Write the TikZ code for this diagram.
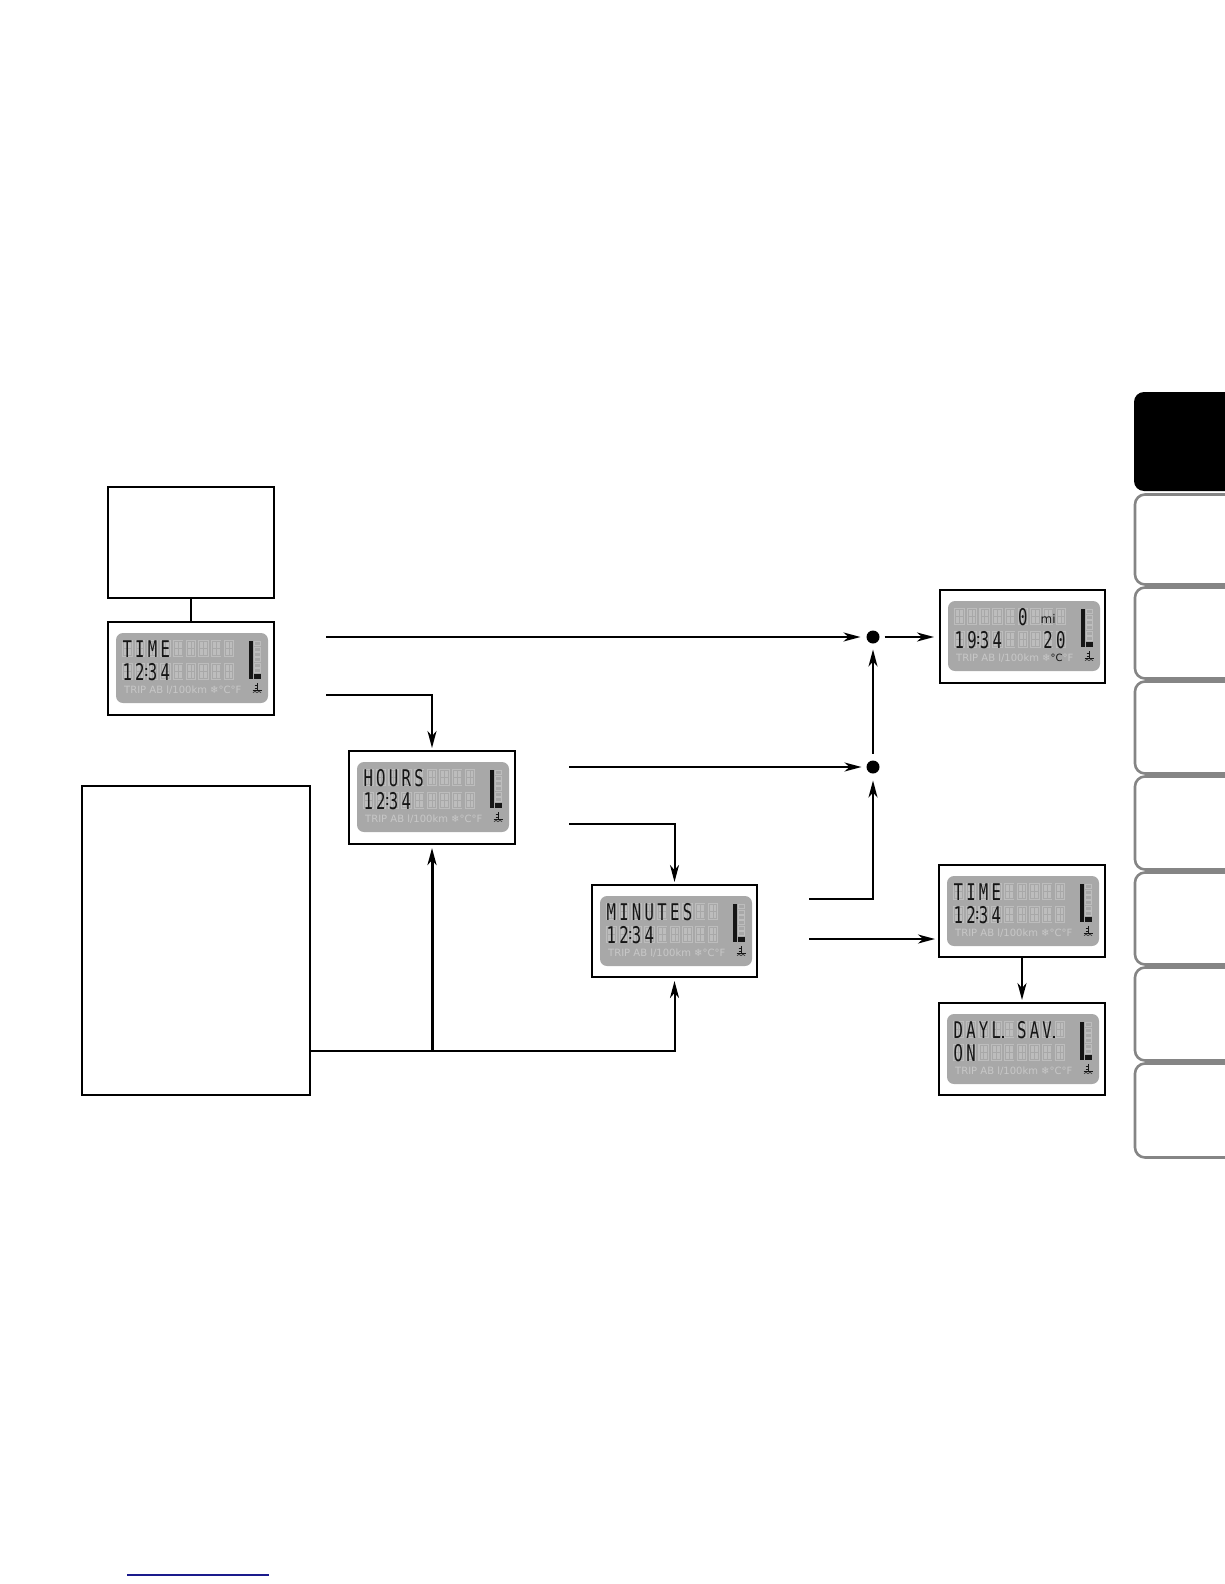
\documentclass[tikz,border=0pt]{standalone}
\usepackage{fontspec}
\usepackage{graphicx}
\usetikzlibrary{arrows.meta}
\newfontfamily\lcdf{DejaVu Sans Mono}
\newfontfamily\lcds{DejaVu Sans}
\definecolor{lcdbg}{HTML}{A8A8A8}
\definecolor{lcdghost}{HTML}{BDBDBD}
\definecolor{lcdtxt}{HTML}{C8C8C8}
\definecolor{lcdink}{HTML}{151515}
\definecolor{tabgrey}{HTML}{858585}
\definecolor{footblue}{HTML}{1A1A8C}

\tikzset{
  frame/.style={draw=black, line width=1.4, minimum width=166, minimum height=93, anchor=north west, inner sep=0, outer sep=0},
  blankbox/.style={draw=black, line width=1.6, anchor=north west, inner sep=0, outer sep=0},
  dotn/.style={circle, fill=black, minimum size=13, inner sep=0, outer sep=0},
  conn/.style={line width=2, line cap=butt},
  arr/.style={conn, -{Stealth[length=17, width=9, inset=5]}},
  lcdch/.style={anchor=base, inner sep=0, text=lcdink, font=\lcdf\fontsize{23}{23}\selectfont},
  tabline/.style={draw=tabgrey, line width=2.6, rounded corners=10},
}

\newcommand\ghostcell[2]{%
  \fill[lcdghost] (#1,#2) rectangle ++(10.5,17);
  \draw[lcdbg, line width=0.5] (#1+5.25,#2+1.5) -- ++(0,14) (#1+1.5,#2+8.5) -- ++(7.5,0) (#1+1.5,#2+1.5) rectangle ++(7.5,14);
}
\newcommand\lcdbase[1]{%
  \fill[lcdbg, rounded corners=7] (8,11) rectangle (160,81);
  \foreach \gi in {1,...,9} {
    \pgfmathsetmacro\gx{14+(\gi-1)*12.7}
    \ghostcell{\gx}{18}
    \ghostcell{\gx}{41}
  }
  \fill[lcdink] (141,19) rectangle (144.5,57);
  \foreach \k in {0,...,5} \draw[lcdghost, line width=0.8] (146.5,19.5+\k*5.4) rectangle ++(6,4);
  \fill[lcdink] (146,51.5) rectangle (153,57);
  \node[anchor=base west, inner sep=0, font=\lcds\fontsize{10}{10}\selectfont, text=lcdtxt] at (16,71) {#1};
  \draw[lcdink, line width=0.8] (149,61) -- (149,68) (146.5,63.5) -- (149,63.5) (146.5,66) -- (149,66) (144.5,68) -- (153.5,68);
  \draw[lcdink, line width=0.6] (145,70.5) -- (147,69.5) -- (149,70.5) -- (151,69.5) -- (153,70.5);
}
\newcommand\lcdrow[2]{%
  \foreach \lc [count=\ci] in {#2} {
    \node[lcdch] at ({14+(\ci-1)*12.7+5.25}, #1+17) {\scalebox{0.68}[1]{\lc}};
  }}
\newcommand\lcdcolon[1]{\fill[lcdink] (37.4,#1+5) rectangle ++(1.8,1.8) (37.4,#1+11) rectangle ++(1.8,1.8);}
\newcommand\lcddot[2]{\fill[lcdink] (#1,#2+15) rectangle ++(2,2);}

\begin{document}
\begin{tikzpicture}[x=1pt, y=-1pt]
\useasboundingbox (0,0) rectangle (1224,1584);

% side tabs
\fill[black, rounded corners=10] (1240,392) -- (1134,392) -- (1134,491) -- (1240,491) -- cycle;
\foreach \tt/\bb in {493/586, 586/680, 680/775, 775/871, 871/966, 966/1062, 1062/1159} {
  \draw[tabline] (1240,\tt+1.5) -- (1135,\tt+1.5) -- (1135,\bb-1.5) -- (1240,\bb-1.5);
}

% footer line
\draw[footblue, line width=1.6] (127,1575) -- (269,1575);

% boxes
\node[blankbox, minimum width=166, minimum height=111] (tb) at (108,487) {};
\node[blankbox, minimum width=228, minimum height=309] (big) at (82,786) {};
\node[frame] (t1) at (108,622) {};
\node[frame] (hr) at (349,751) {};
\node[frame, minimum width=165, minimum height=92] (mn) at (592,885) {};
\node[frame, minimum width=165] (od) at (940,590) {};
\node[frame, minimum height=92] (t2) at (939,865) {};
\node[frame, minimum height=92] (dl) at (939,1003) {};

% LCD contents
\begin{scope}[shift={(t1.north west)}]
  \lcdbase{TRIP AB l/100km ❄°C°F}
  \lcdrow{18}{T,I,M,E}
  \lcdrow{41}{1,2,3,4}\lcdcolon{41}
\end{scope}
\begin{scope}[shift={(hr.north west)}]
  \lcdbase{TRIP AB l/100km ❄°C°F}
  \lcdrow{18}{H,O,U,R,S}
  \lcdrow{41}{1,2,3,4}\lcdcolon{41}
\end{scope}
\begin{scope}[shift={(mn.north west)}]
  \lcdbase{TRIP AB l/100km ❄°C°F}
  \lcdrow{18}{M,I,N,U,T,E,S}
  \lcdrow{41}{1,2,3,4}\lcdcolon{41}
\end{scope}
\begin{scope}[shift={(od.north west)}]
  \lcdbase{TRIP AB l/100km ❄{\color{lcdink}°C}°F}
  \lcdrow{18}{{},{},{},{},{},0}
  \node[anchor=base, inner sep=0, text=lcdink, font=\lcds\fontsize{12}{12}\selectfont] at (108.2,33) {mi};
  \lcdrow{41}{1,9,3,4,{},{},{},2,0}\lcdcolon{41}
\end{scope}
\begin{scope}[shift={(t2.north west)}]
  \lcdbase{TRIP AB l/100km ❄°C°F}
  \lcdrow{18}{T,I,M,E}
  \lcdrow{41}{1,2,3,4}\lcdcolon{41}
\end{scope}
\begin{scope}[shift={(dl.north west)}]
  \lcdbase{TRIP AB l/100km ❄°C°F}
  \lcdrow{18}{D,A,Y,L,{},S,A,V}
  \lcddot{62.8}{18}
  \lcddot{113.6}{18}
  \lcdrow{41}{O,N}
\end{scope}

% junction dots
\node[dotn] (d1) at (873,637) {};
\node[dotn] (d2) at (873,767) {};

% free ends
\coordinate (a1) at (326,637);
\coordinate (a2) at (326,695);
\coordinate (a3) at (569,767);
\coordinate (a4) at (569,824);
\coordinate (a5) at (809,899);
\coordinate (a6) at (809,939);
\coordinate (b0) at (big.east |- 0,1051);

% connectors
\draw[conn] (tb.south) -- (t1.north);
\draw[arr, shorten >=6] (a1) -- (d1);
\draw[arr, shorten <=5, shorten >=6] (d1) -- (d1 -| od.west);
\draw[arr, shorten >=3] (a2) -| (hr.north);
\draw[arr, shorten >=5] (a3) -- (d2);
\draw[arr, shorten <=7, shorten >=6] (d2) -- (d1);
\draw[arr, shorten >=3] (a4) -| (mn.north);
\draw[arr, shorten >=7] (a5) -| (d2);
\draw[arr, shorten >=4] (a6) -- (a6 -| t2.west);
\draw[arr, shorten >=3] (t2.south) -- (dl.north);
\draw[arr, shorten >=4] (b0) -| (mn.south);
\draw[arr, line width=3, shorten >=4] (hr.south |- b0) -- (hr.south);
\end{tikzpicture}
\end{document}
